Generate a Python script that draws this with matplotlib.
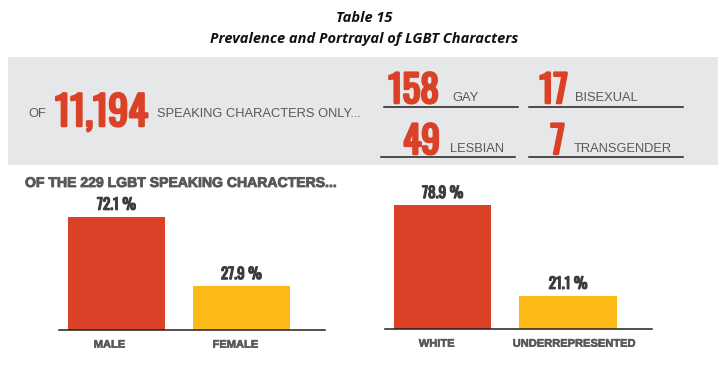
import matplotlib
matplotlib.use("Agg")
import matplotlib.pyplot as plt
from matplotlib import font_manager as fm
from matplotlib import patheffects as pe
from matplotlib.patches import Rectangle
from matplotlib.lines import Line2D
from matplotlib.transforms import ScaledTranslation

# ---- data ----
title_line1 = "Table 15"
title_line2 = "Prevalence and Portrayal of LGBT Characters"
total_speaking = "11,194"
orient_values = ["158", "17", "49", "7"]
orient_labels = ["GAY", "BISEXUAL", "LESBIAN", "TRANSGENDER"]
sub_heading = "OF THE 229 LGBT SPEAKING CHARACTERS..."
gender_cats = ["MALE", "FEMALE"]
gender_vals = [72.1, 27.9]
race_cats = ["WHITE", "UNDERREPRESENTED"]
race_vals = [78.9, 21.1]

RED = "#DB4127"
YEL = "#FBBA16"
GRAY_BG = "#E6E7E8"
TXT = "#58595B"
DARK = "#3C3C3E"

avail = {f.name for f in fm.fontManager.ttflist}
def pick(*names):
    for n in names:
        if n in avail:
            return n
    return "DejaVu Sans"

COND = pick("Oswald", "Barlow Condensed", "Roboto Condensed")
SANS = "Liberation Sans"
TITLE = pick("Open Sans")

W, H = 728, 368
fig = plt.figure(figsize=(W / 100, H / 100), dpi=100)

def fx(px):
    return px / W

def fy(py):
    return 1 - py / H

def heavy(color, lw):
    return [pe.withStroke(linewidth=lw, foreground=color)]

# title
fig.text(fx(364), fy(18), title_line1, ha="center", va="center", fontsize=10.5,
         fontweight="bold", fontstyle="italic", family=TITLE, color="#111111")
fig.text(fx(364), fy(39), title_line2, ha="center", va="center", fontsize=10.5,
         fontweight="bold", fontstyle="italic", family=TITLE, color="#111111")

# gray panel
fig.patches.append(Rectangle((fx(8), fy(165)), fx(710), (165 - 57) / H,
                             transform=fig.transFigure, facecolor=GRAY_BG,
                             edgecolor="none", zorder=0))

fig.text(fx(28), fy(117), "OF", ha="left", va="baseline", fontsize=9.3,
         family=SANS, color=TXT)
fig.text(fx(55), fy(126), total_speaking, ha="left", va="baseline", fontsize=29,
         fontweight="bold", family=COND, color=RED, path_effects=heavy(RED, 1.8))
fig.text(fx(157), fy(117), "SPEAKING CHARACTERS ONLY...", ha="left", va="baseline",
         fontsize=9.3, family=SANS, color=TXT)

# orientation counts
num_right = [439, 568, 440, 565]
lab_left = [452, 575, 450, 574]
base_y = [103, 103, 154, 154]
line_x = [(384, 518), (529, 683), (381, 515), (529, 683)]
line_y = [107, 107, 157, 157]
for v, lab, nr, ll, by, (x0, x1), ly in zip(orient_values, orient_labels, num_right,
                                             lab_left, base_y, line_x, line_y):
    fig.text(fx(nr), fy(by), v, ha="right", va="baseline", fontsize=27,
             fontweight="bold", family=COND, color=RED, path_effects=heavy(RED, 1.8))
    fig.text(fx(ll), fy(by - 2), lab, ha="left", va="baseline", fontsize=9.3,
             family=SANS, color=TXT)
    fig.lines.append(Line2D([fx(x0), fx(x1)], [fy(ly), fy(ly)], transform=fig.transFigure,
                            color="#231F20", lw=1.1))

# sub heading
fig.text(fx(25), fy(183), sub_heading, ha="left", va="center", fontsize=10.1,
         fontweight="bold", family=SANS, color=TXT, path_effects=heavy(TXT, 0.6))

px_per_pct = 1.57
def bar_axes(x_left, x_right, base, cats, vals, label_shift):
    top = 190
    ax = fig.add_axes([fx(x_left), fy(base), (x_right - x_left) / W, (base - top) / H])
    ax.set_ylim(0, (base - top) / px_per_pct)
    ax.set_xlim(-0.46, 1.67)
    ax.bar(range(len(vals)), vals, width=0.776, color=[RED, YEL], zorder=2)
    for i, v in enumerate(vals):
        ax.text(i, v + 2.6, f"{v:.1f} %", ha="center", va="bottom", fontsize=11,
                fontweight="bold", family=COND, color=DARK, path_effects=heavy(DARK, 0.9))
    ax.set_xticks(range(len(vals)))
    ax.set_xticklabels(cats, fontsize=8, fontweight="bold", family=SANS, color=TXT)
    ax.tick_params(axis="x", length=0, pad=7)
    for lbl, dx in zip(ax.get_xticklabels(), label_shift):
        lbl.set_transform(lbl.get_transform() + ScaledTranslation(dx / 100, 0, fig.dpi_scale_trans))
        lbl.set_path_effects(heavy(TXT, 0.4))
    ax.set_yticks([])
    for s in ["top", "right", "left"]:
        ax.spines[s].set_visible(False)
    ax.spines["bottom"].set_color("#231F20")
    ax.spines["bottom"].set_linewidth(1.1)
    ax.patch.set_alpha(0)
    return ax

bar_axes(59, 325, 330, gender_cats, gender_vals, [-7, -6])
bar_axes(385, 652, 329, race_cats, race_vals, [-6, 6])

fig.savefig("out.png", dpi=100, facecolor="white")
